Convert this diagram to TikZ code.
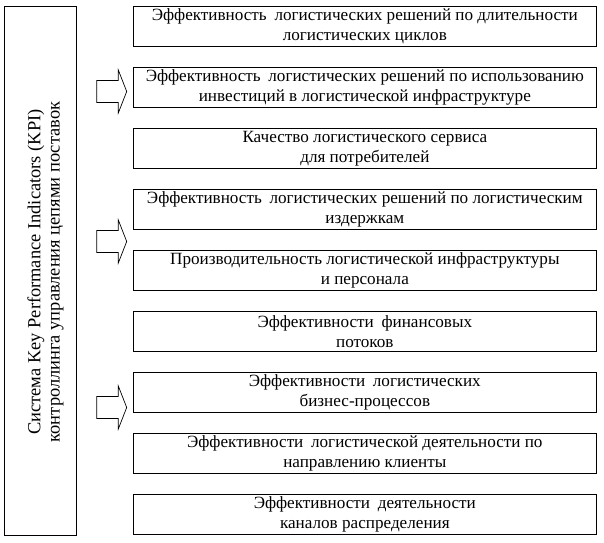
\documentclass[tikz,border=0pt]{standalone}
\usepackage{fontspec}
\setmainfont{Liberation Serif}
\usepackage{tikz}
\usetikzlibrary{positioning, calc}
\newcommand{\wgap}{\hspace{0.45em}}

\begin{document}
\begin{tikzpicture}[x=1bp, y=-1bp,
  kpibox/.style={draw, line width=0.9bp, minimum width=463bp, minimum height=39.5bp,
    inner sep=0pt, align=center, font=\fontsize{17.2}{20.2}\selectfont},
  sysbox/.style={draw, line width=0.9bp, minimum width=72.7bp, minimum height=528.3bp, inner sep=0pt},
  blockarrow/.style={draw, line width=0.7bp}]
\useasboundingbox (0,0) rectangle (604,543);

% left frame with the system name
\node[sysbox] (sys) at (40.35,270.85) {};
\node[rotate=90, align=center, font=\fontsize{18.5}{19.5}\selectfont] (systext) at (45.5,272)
  {Система Key Performance Indicators (KPI)\\контроллинга управления цепями поставок};

% indicator boxes
\foreach \txt [count=\i] in {
  {Эффективность\wgap логистических решений по длительности\\логистических циклов},
  {Эффективность\wgap логистических решений по использованию\\инвестиций в логистической инфраструктуре},
  {Качество логистического сервиса\\для потребителей},
  {Эффективность\wgap логистических решений по логистическим\\издержкам},
  {Производительность логистической инфраструктуры\\и персонала},
  {Эффективности\wgap финансовых\\потоков},
  {Эффективности\wgap логистических\\бизнес-процессов},
  {Эффективности\wgap логистической деятельности по\\направлению клиенты},
  {Эффективности\wgap деятельности\\каналов распределения}}
  \node[kpibox] (k\i) at (364.85,26.5+61*\i-61) {\txt};

% hollow arrows
\foreach \yc in {91.5,241.5,407.5}
  \draw[blockarrow] (96.7,\yc-11) -- (118.3,\yc-11) -- (118.3,\yc-21.5) -- (126.7,\yc)
    -- (118.3,\yc+21.5) -- (118.3,\yc+11) -- (96.7,\yc+11) -- cycle;
\end{tikzpicture}
\end{document}
